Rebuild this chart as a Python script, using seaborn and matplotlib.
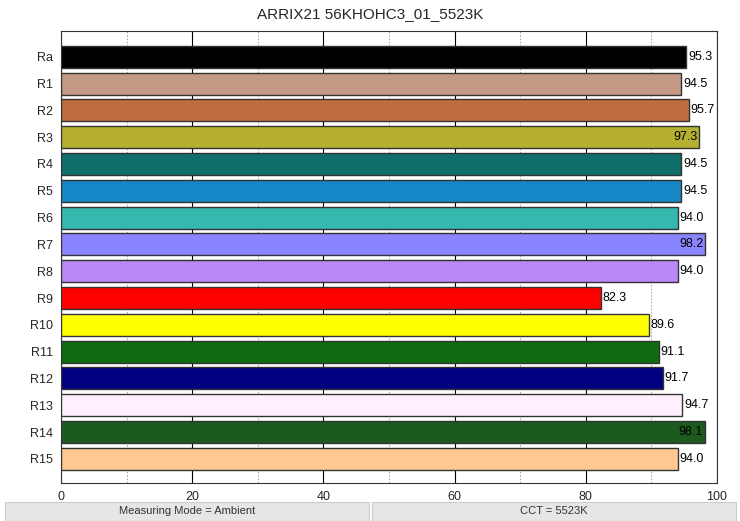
import matplotlib
matplotlib.use("Agg")
import matplotlib.pyplot as plt
import seaborn as sns
import pandas as pd
from matplotlib.patches import Rectangle

sns.set_theme(style="white")
plt.rcParams['font.family'] = ['Liberation Sans', 'DejaVu Sans']

labels = ["Ra", "R1", "R2", "R3", "R4", "R5", "R6", "R7", "R8", "R9",
          "R10", "R11", "R12", "R13", "R14", "R15"]
values = [95.3, 94.5, 95.7, 97.3, 94.5, 94.5, 94.0, 98.2, 94.0, 82.3,
          89.6, 91.1, 91.7, 94.7, 98.1, 94.0]
colors = ["#000000", "#c49a86", "#bf6d3f", "#b5b02f", "#0f6e6a", "#1687c6",
          "#35b8ad", "#8a84fe", "#b98af7", "#ff0000", "#ffff00", "#0f6b0f",
          "#000080", "#fff0fe", "#1d5a1d", "#ffc890"]
title = "ARRIX21 56KHOHC3_01_5523K"
footer_left = "Measuring Mode = Ambient"
footer_right = "CCT = 5523K"

df = pd.DataFrame({"label": labels, "value": values})

fig = plt.figure(figsize=(7.4, 5.21), dpi=100)
ax = fig.add_axes([61 / 740, 38 / 521, 656 / 740, 452 / 521])

sns.barplot(data=df, x="value", y="label", hue="label", palette=colors,
            saturation=1, legend=False, orient="h", width=0.82,
            edgecolor="#333333", linewidth=1.0, ax=ax, zorder=3)

ax.set_xlim(0, 100)
ax.set_ylim(15.9, -0.96)
ax.set_xticks([0, 20, 40, 60, 80, 100])
ax.set_xticks([10, 30, 50, 70, 90], minor=True)
ax.grid(axis="x", which="major", color="#000000", linewidth=0.8, linestyle="-", zorder=0)
ax.grid(axis="x", which="minor", color="#999999", linewidth=0.6, linestyle=(0, (2, 2)), zorder=0)
ax.set_xlabel("")
ax.set_ylabel("")
ax.tick_params(axis="x", which="both", labelsize=9, length=0, pad=6)
ax.tick_params(axis="y", labelsize=9, length=0, pad=6)
for s in ax.spines.values():
    s.set_color("#333333")
    s.set_linewidth(0.8)

for i, v in enumerate(values):
    if v > 97:
        ax.text(v - 0.3, i, f"{v:.1f}", ha="right", va="center", fontsize=9,
                color="#000000", zorder=5)
    else:
        ax.text(v + 0.3, i, f"{v:.1f}", ha="left", va="center", fontsize=9,
                color="#000000", zorder=5)

fig.text(0.5, 1 - 14 / 521, title, ha="center", va="center", fontsize=11)

# footer boxes
for x0, x1, txt in [(5, 369, footer_left), (372, 736, footer_right)]:
    fig.patches.append(Rectangle((x0 / 740, 0.0), (x1 - x0) / 740, 19 / 521,
                                 transform=fig.transFigure, facecolor="#e6e6e6",
                                 edgecolor="#cccccc", linewidth=0.8))
    fig.text((x0 + x1) / 2 / 740, 9.5 / 521, txt, ha="center", va="center",
             fontsize=8, color="#333333")

fig.savefig("out.png", dpi=100)
